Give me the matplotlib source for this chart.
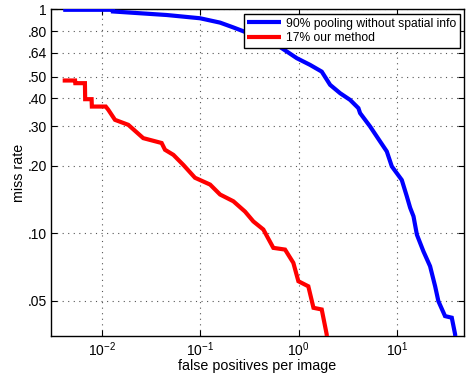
import matplotlib
matplotlib.use("Agg")
import matplotlib.pyplot as plt
import numpy as np
from matplotlib.ticker import FixedLocator, FixedFormatter, NullLocator, LogLocator, LogFormatterMathtext

plt.rcParams['font.family'] = ['Liberation Sans', 'DejaVu Sans']

# Data
blue_fppi = [0.00407, 0.0130, 0.0130, 0.0457, 0.0996, 0.159, 0.215, 0.264, 0.405, 0.645,
             0.955, 1.30, 1.71, 2.08, 2.63, 3.32, 4.03, 4.19, 5.29, 6.69, 7.82, 8.79,
             11.1, 12.5, 13.5, 14.6, 15.8, 18.4, 21.5, 24.2, 26.1, 30.5, 35.7, 38.6, 39.5]
blue_miss = [0.995, 0.995, 0.978, 0.943, 0.912, 0.872, 0.831, 0.803, 0.745, 0.679,
             0.605, 0.565, 0.527, 0.460, 0.422, 0.394, 0.362, 0.344, 0.300, 0.257, 0.232, 0.199,
             0.173, 0.146, 0.130, 0.119, 0.0986, 0.0831, 0.0713, 0.0580, 0.0498, 0.0427, 0.0420, 0.0354, 0.030]

red_fppi = [0.00402, 0.00537, 0.00540, 0.00676, 0.00680, 0.00790, 0.00795, 0.0110, 0.01167,
            0.01365, 0.01862, 0.0264, 0.0406, 0.0439, 0.0534, 0.0674, 0.0885, 0.126, 0.159,
            0.217, 0.285, 0.346, 0.437, 0.552, 0.726, 0.881, 0.991, 1.25, 1.41, 1.71, 1.92, 1.97]
red_miss = [0.481, 0.481, 0.468, 0.468, 0.397, 0.397, 0.368, 0.368, 0.356,
            0.321, 0.305, 0.266, 0.253, 0.236, 0.224, 0.202, 0.177, 0.165, 0.149,
            0.139, 0.125, 0.113, 0.104, 0.0861, 0.0846, 0.0738, 0.0611, 0.0580, 0.0465, 0.0457, 0.0354, 0.030]

labels = ['90% pooling without spatial info', '17% our method']
colors = ['#0000ff', '#ff0000']

ytick_vals = [0.05, 0.10, 0.20, 0.30, 0.40, 0.50, 0.64, 0.80, 1.0]
ytick_labels = ['.05', '.10', '.20', '.30', '.40', '.50', '.64', '.80', '1']

fig = plt.figure(figsize=(4.66, 3.75), dpi=100)
ax = fig.add_axes([51/466, 1 - 336/375, 413/466, (336 - 9.3)/375])

ax.plot(blue_fppi, blue_miss, color=colors[0], lw=3.0, label=labels[0],
        solid_joinstyle='miter', solid_capstyle='butt', zorder=3)
ax.plot(red_fppi, red_miss, color=colors[1], lw=3.0, label=labels[1],
        solid_joinstyle='miter', solid_capstyle='butt', zorder=3)

ax.set_xscale('log')
ax.set_yscale('log')
ax.set_xlim(0.00306, 47.5)
ax.set_ylim(0.0348, 1.0)

ax.yaxis.set_major_locator(FixedLocator(ytick_vals))
ax.yaxis.set_major_formatter(FixedFormatter(ytick_labels))
ax.yaxis.set_minor_locator(NullLocator())
ax.xaxis.set_major_locator(LogLocator(base=10, numticks=10))
ax.xaxis.set_major_formatter(LogFormatterMathtext())
ax.xaxis.set_minor_locator(NullLocator())

ax.tick_params(which='both', direction='in', top=True, right=True, length=4, width=0.8,
               labelsize=10, colors='black')
ax.tick_params(axis='x', pad=3)
ax.tick_params(axis='y', pad=3)
for s in ax.spines.values():
    s.set_linewidth(1.0)

ax.set_axisbelow(True)
ax.grid(True, which='major', linestyle=(0, (1, 4)), color='#555555', linewidth=0.8)

ax.set_xlabel('false positives per image', fontsize=10.3, labelpad=0)
ax.set_ylabel('miss rate', fontsize=10.3, labelpad=1)

leg = ax.legend(loc='upper right', bbox_to_anchor=(0.990, 0.9856), borderaxespad=0,
                fancybox=False, edgecolor='black', framealpha=1, fontsize=8.7,
                handlelength=2.8, handletextpad=0.4, labelspacing=0.2, borderpad=0.3)
leg.get_frame().set_linewidth(1.0)
leg.set_zorder(5)

fig.savefig('out.png', dpi=100)
